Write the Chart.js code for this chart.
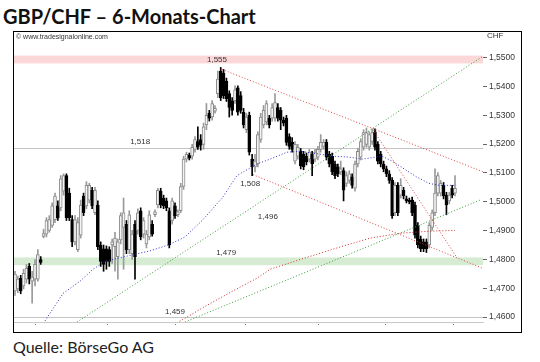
<!DOCTYPE html>
<html lang="de">
<head>
<meta charset="UTF-8">
<title>GBP/CHF – 6-Monats-Chart</title>
<script src="https://cdn.jsdelivr.net/npm/chart.js"></script>
<style>
  body { margin: 0; background: #fff; width: 540px; height: 362px; position: relative; overflow: hidden; }
  #title { position: absolute; left: 3px; top: 4px; font-family: Lato, sans-serif; font-weight: 700; font-size: 20px; color: #111; white-space: nowrap; }
  #source { position: absolute; left: 13px; top: 337px; font-family: Lato, sans-serif; font-size: 16px; color: #222; white-space: nowrap; }
  #chartBox { position: absolute; left: 13px; top: 31px; width: 509px; height: 302px; }
</style>
</head>
<body>
<div id="title">GBP/CHF – 6-Monats-Chart</div>
<div id="chartBox"><canvas id="fx" width="509" height="302"></canvas></div>
<div id="source">Quelle: BörseGo AG</div>

<script>
// Tageskerzen (Handelstage, von links nach rechts)
const opens  = [1.4691,1.4698,1.4735,1.4708,1.4732,1.4776,1.4725,1.4732,1.4732,1.4800,
  1.4880,1.4888,1.4901,1.4918,1.4938,1.4986,1.4979,1.5037,1.5091,1.5030,
  1.4938,1.4861,1.4834,1.4884,1.5020,1.4986,1.5006,1.5040,1.4962,1.4989,
  1.4850,1.4837,1.4837,1.4834,1.4850,1.4844,1.4810,1.4868,1.4911,1.4922,
  1.4834,1.4820,1.4922,1.4901,1.4969,1.4888,1.4854,1.4878,1.4922,1.4955,
  1.4989,1.5037,1.5013,1.5003,1.4969,1.4935,1.4986,1.4955,1.4969,1.5053,
  1.5148,1.5162,1.5158,1.5182,1.5209,1.5216,1.5199,1.5267,1.5307,1.5294,
  1.5314,1.5375,1.5453,1.5446,1.5419,1.5375,1.5351,1.5351,1.5395,1.5368,
  1.5311,1.5250,1.5300,1.5148,1.5121,1.5131,1.5216,1.5267,1.5277,1.5290,
  1.5290,1.5290,1.5327,1.5317,1.5283,1.5290,1.5226,1.5206,1.5141,1.5158,
  1.5175,1.5165,1.5158,1.5148,1.5165,1.5148,1.5155,1.5182,1.5192,1.5206,
  1.5165,1.5158,1.5131,1.5121,1.5104,1.5108,1.5064,1.5074,1.5087,1.5047,
  1.5131,1.5155,1.5189,1.5199,1.5189,1.5209,1.5243,1.5199,1.5165,1.5131,
  1.5114,1.5097,1.5074,1.4962,1.5057,1.5023,1.5040,1.5010,1.5006,1.5006,
  1.4989,1.4918,1.4871,1.4861,1.4861,1.4850,1.4911,1.4962,1.5030,1.5030,
  1.5057,1.5023,1.5003,1.5047,1.5030];
const highs  = [1.4759,1.4742,1.4745,1.4766,1.4783,1.4786,1.4759,1.4800,1.4834,1.4810,
  1.4905,1.4945,1.4952,1.4996,1.5030,1.5003,1.5091,1.5097,1.5097,1.5047,
  1.4952,1.4952,1.4945,1.5006,1.5030,1.5070,1.5064,1.5050,1.5050,1.5003,
  1.4861,1.4850,1.4847,1.4844,1.4871,1.4894,1.4871,1.4962,1.5013,1.4935,
  1.4969,1.4901,1.4935,1.4976,1.4979,1.4945,1.4901,1.4969,1.4935,1.4972,
  1.5047,1.5047,1.5023,1.5013,1.4979,1.5013,1.4996,1.4972,1.5064,1.5158,
  1.5172,1.5169,1.5199,1.5226,1.5260,1.5233,1.5273,1.5341,1.5317,1.5351,
  1.5334,1.5453,1.5466,1.5459,1.5429,1.5385,1.5361,1.5402,1.5402,1.5382,
  1.5324,1.5307,1.5311,1.5165,1.5165,1.5243,1.5307,1.5334,1.5351,1.5300,
  1.5341,1.5375,1.5341,1.5327,1.5294,1.5300,1.5236,1.5223,1.5209,1.5199,
  1.5185,1.5175,1.5169,1.5182,1.5175,1.5182,1.5192,1.5233,1.5216,1.5216,
  1.5175,1.5169,1.5141,1.5131,1.5141,1.5118,1.5104,1.5108,1.5097,1.5141,
  1.5185,1.5219,1.5250,1.5256,1.5243,1.5253,1.5253,1.5209,1.5175,1.5141,
  1.5124,1.5108,1.5084,1.5067,1.5067,1.5080,1.5050,1.5020,1.5013,1.5016,
  1.4999,1.4928,1.4881,1.4871,1.4871,1.4928,1.4972,1.5114,1.5101,1.5074,
  1.5067,1.5033,1.5033,1.5057,1.5091];
const lows   = [1.4675,1.4685,1.4681,1.4698,1.4718,1.4715,1.4648,1.4708,1.4725,1.4783,
  1.4875,1.4878,1.4894,1.4911,1.4928,1.4935,1.4969,1.5023,1.4935,1.4935,
  1.4844,1.4850,1.4827,1.4874,1.4952,1.4976,1.4996,1.4976,1.4955,1.4834,
  1.4776,1.4759,1.4766,1.4776,1.4786,1.4759,1.4732,1.4854,1.4766,1.4820,
  1.4820,1.4800,1.4732,1.4888,1.4868,1.4874,1.4840,1.4868,1.4881,1.4948,
  1.4979,1.4979,1.4976,1.4969,1.4840,1.4922,1.4942,1.4948,1.4962,1.5043,
  1.5138,1.5145,1.5148,1.5172,1.5182,1.5179,1.5182,1.5250,1.5280,1.5283,
  1.5307,1.5361,1.5351,1.5358,1.5348,1.5294,1.5300,1.5341,1.5300,1.5307,
  1.5256,1.5240,1.5162,1.5091,1.5104,1.5121,1.5206,1.5256,1.5267,1.5256,
  1.5280,1.5280,1.5280,1.5250,1.5263,1.5196,1.5182,1.5172,1.5131,1.5148,
  1.5114,1.5111,1.5128,1.5138,1.5091,1.5138,1.5145,1.5172,1.5182,1.5145,
  1.5121,1.5094,1.5080,1.5087,1.5094,1.5003,1.5053,1.5064,1.5047,1.5037,
  1.5121,1.5145,1.5179,1.5189,1.5179,1.5199,1.5179,1.5131,1.5121,1.5104,
  1.5087,1.5064,1.4942,1.4952,1.4952,1.5013,1.5010,1.4996,1.4993,1.4952,
  1.4874,1.4840,1.4827,1.4827,1.4824,1.4840,1.4901,1.4952,1.5020,1.5020,
  1.5010,1.4955,1.4993,1.5013,1.5020];
const closes = [1.4749,1.4732,1.4691,1.4752,1.4769,1.4732,1.4739,1.4783,1.4817,1.4790,
  1.4890,1.4935,1.4938,1.4986,1.5020,1.4945,1.5080,1.5091,1.4945,1.4945,
  1.4861,1.4938,1.4928,1.4989,1.4962,1.5057,1.5057,1.4986,1.5040,1.4844,
  1.4793,1.4783,1.4793,1.4793,1.4861,1.4874,1.4861,1.4952,1.4962,1.4834,
  1.4955,1.4888,1.4810,1.4962,1.4878,1.4935,1.4888,1.4955,1.4888,1.4965,
  1.5040,1.4989,1.4986,1.4979,1.4850,1.5003,1.4952,1.4965,1.5053,1.5148,
  1.5165,1.5151,1.5189,1.5216,1.5189,1.5196,1.5260,1.5300,1.5290,1.5341,
  1.5324,1.5426,1.5361,1.5368,1.5358,1.5327,1.5317,1.5388,1.5311,1.5317,
  1.5267,1.5294,1.5172,1.5121,1.5141,1.5233,1.5294,1.5317,1.5341,1.5267,
  1.5327,1.5344,1.5290,1.5283,1.5273,1.5206,1.5192,1.5182,1.5199,1.5189,
  1.5124,1.5121,1.5138,1.5172,1.5131,1.5172,1.5182,1.5206,1.5206,1.5155,
  1.5131,1.5104,1.5091,1.5097,1.5114,1.5040,1.5091,1.5097,1.5057,1.5131,
  1.5175,1.5209,1.5240,1.5240,1.5233,1.5240,1.5189,1.5141,1.5131,1.5114,
  1.5097,1.5074,1.4952,1.5057,1.4962,1.5057,1.5020,1.5003,1.5000,1.4962,
  1.4884,1.4850,1.4837,1.4837,1.4837,1.4918,1.4962,1.5030,1.5091,1.5064,
  1.5020,1.4989,1.5023,1.5023,1.5047];

// gleitende Durchschnitte
const maShortX = [10.5,16.8,22.8,27.3,31.5,35.4,38.5,47.3,53.6,59.5,65.5,72.5,77.7,84.7,89.3,95.2,99.8,106.8,111.7,116.9,121.5,128.5,132,140.4,144.9,148.4,154.4];
const maShortY = [1.4587,1.4682,1.4725,1.4766,1.4793,1.4803,1.4810,1.4830,1.4850,1.4878,1.4935,1.5013,1.5091,1.5131,1.5148,1.5172,1.5175,1.5165,1.5158,1.5155,1.5148,1.5158,1.5141,1.5087,1.5064,1.5057,1.5057];
const maLongX  = [56.7,66.5,76.3,84.7,89.3,100.8,112.7,124.3,134.8,145.3,154];
const maLongY  = [1.4580,1.4637,1.4691,1.4735,1.4766,1.4803,1.4840,1.4874,1.4891,1.4898,1.4901];

// Trendlinien (Start- und Endpunkt)
const greenUpperX = [21.7, 163.5],  greenUpperY = [1.4583, 1.5503];
const greenLowerX = [59.5, 162.8],  greenLowerY = [1.4583, 1.5006];
const redTopX     = [72.5, 163.8],  redTopY     = [1.5459, 1.5104];
const redBottomX  = [83.3, 163.8],  redBottomY  = [1.5094, 1.4769];
const redSteepX   = [125.3, 154.7], redSteepY   = [1.5250, 1.4806];

// Marken und Beschriftungen
const resistBand = [1.5480, 1.5507];
const supportBand = [1.4780, 1.4807];
const hLines = [1.5185, 1.4600];
const markTexts = ['1,555', '1,518', '1,508', '1,496', '1,479', '1,459'];
const markX     = [70.7, 43.8, 82.3, 88.5, 73.9, 56];
const markY     = [1.5493, 1.5209, 1.5064, 1.4949, 1.4823, 1.4620];

const months = ['Mai', 'Jun', 'Jul', 'Aug', 'Sep', 'Okt', 'Nov'];
const monthLabelPos = [19.3, 43.4, 67.6, 92.8, 116.6, 140.7, 158.2];
const monthStartPos = [7, 32.2, 56, 80.5, 106, 129.5, 153.3];
const yTicks = [1.46, 1.47, 1.48, 1.49, 1.50, 1.51, 1.52, 1.53, 1.54, 1.55];

const isUp = i => closes[i] >= opens[i];

function pts(xs, ys) {
  return xs.map((x, i) => ({ x: x, y: ys[i] }));
}
function dotted(xs, ys, color) {
  return {
    type: 'line', data: pts(xs, ys), borderColor: color, borderWidth: 1,
    borderDash: [1, 2], pointRadius: 0, fill: false, tension: 0, order: 0
  };
}

// Baender, Linien, Texte und Rahmen
const decor = {
  id: 'decor',
  beforeDatasetsDraw(chart) {
    const { ctx, chartArea: a, scales: { x, y } } = chart;
    ctx.save();
    ctx.fillStyle = '#fbd7d7';
    ctx.fillRect(a.left, y.getPixelForValue(resistBand[1]), a.right - a.left,
      y.getPixelForValue(resistBand[0]) - y.getPixelForValue(resistBand[1]));
    ctx.fillStyle = '#d6ecd2';
    ctx.fillRect(a.left, y.getPixelForValue(supportBand[1]), a.right - a.left,
      y.getPixelForValue(supportBand[0]) - y.getPixelForValue(supportBand[1]));
    ctx.strokeStyle = '#c4c4c4';
    ctx.lineWidth = 1;
    hLines.forEach(v => {
      const py = Math.round(y.getPixelForValue(v)) + 0.5;
      ctx.beginPath(); ctx.moveTo(a.left, py); ctx.lineTo(a.right, py); ctx.stroke();
    });
    ctx.fillStyle = '#333';
    ctx.font = '8px "Liberation Sans", Arial, sans-serif';
    ctx.textAlign = 'center';
    ctx.textBaseline = 'middle';
    markTexts.forEach((t, i) => ctx.fillText(t, x.getPixelForValue(markX[i]), y.getPixelForValue(markY[i])));
    ctx.restore();
  },
  afterDraw(chart) {
    const { ctx, chartArea: a, scales: { x } } = chart;
    ctx.save();
    ctx.fillStyle = '#777';
    monthStartPos.forEach(v => ctx.fillRect(Math.round(x.getPixelForValue(v)), a.bottom + 2, 1, 1));
    ctx.fillStyle = '#333';
    ctx.font = '7px "Liberation Sans", Arial, sans-serif';
    ctx.textBaseline = 'middle';
    ctx.textAlign = 'left';
    ctx.fillText('\u00a9 www.tradesignalonline.com', 3, 6);
    ctx.font = '8px "Liberation Sans", Arial, sans-serif';
    ctx.fillText('CHF', a.right + 4, 5);
    ctx.strokeStyle = '#000';
    ctx.strokeRect(0.5, 0.5, chart.width - 1, chart.height - 1);
    ctx.restore();
  }
};

new Chart(document.getElementById('fx'), {
  type: 'bar',
  data: {
    datasets: [
      dotted(greenUpperX, greenUpperY, '#3c9a3c'),
      dotted(greenLowerX, greenLowerY, '#3c9a3c'),
      dotted(redTopX, redTopY, '#e04040'),
      dotted(redBottomX, redBottomY, '#e04040'),
      dotted(redSteepX, redSteepY, '#e04040'),
      dotted(maLongX, maLongY, '#d02828'),
      dotted(maShortX, maShortY, '#3030c8'),
      {
        type: 'bar', order: 2, grouped: false, barThickness: 1,
        data: opens.map((o, i) => ({ x: i, y: [lows[i], highs[i]] })),
        backgroundColor: c => isUp(c.dataIndex) ? '#9a9a9a' : '#000'
      },
      {
        type: 'bar', order: 1, grouped: false, barThickness: 3, minBarLength: 1,
        borderSkipped: false,
        data: opens.map((o, i) => ({ x: i, y: [o, closes[i]] })),
        backgroundColor: c => isUp(c.dataIndex) ? '#f4f4f4' : '#000',
        borderColor: c => isUp(c.dataIndex) ? '#8a8a8a' : '#000',
        borderWidth: 1
      }
    ]
  },
  options: {
    responsive: false,
    devicePixelRatio: 1,
    animation: false,
    layout: { padding: 0 },
    plugins: { legend: { display: false }, tooltip: { enabled: false } },
    scales: {
      x: {
        type: 'linear', min: -0.7, max: 163.8, offset: false,
        grid: { display: false },
        border: { color: '#c8c8c8' },
        afterBuildTicks: s => { s.ticks = monthLabelPos.map(v => ({ value: v })); },
        afterFit: s => { s.height = 11; },
        ticks: {
          autoSkip: false, maxRotation: 0, padding: 0,
          color: '#333', font: { size: 8, family: '"Liberation Sans", Arial, sans-serif' },
          callback: (v, i) => months[i]
        }
      },
      y: {
        type: 'linear', position: 'right', min: 1.45831, max: 1.55677,
        grid: { drawOnChartArea: false, drawTicks: true, tickLength: 4, color: '#666' },
        border: { display: false },
        afterBuildTicks: s => { s.ticks = yTicks.map(v => ({ value: v })); },
        afterFit: s => { s.width = 39; },
        ticks: {
          padding: 2, color: '#333',
          font: { size: 8.5, family: '"Liberation Sans", Arial, sans-serif' },
          callback: v => v.toFixed(4).replace('.', ',')
        }
      }
    }
  },
  plugins: [decor]
});
</script>
</body>
</html>
